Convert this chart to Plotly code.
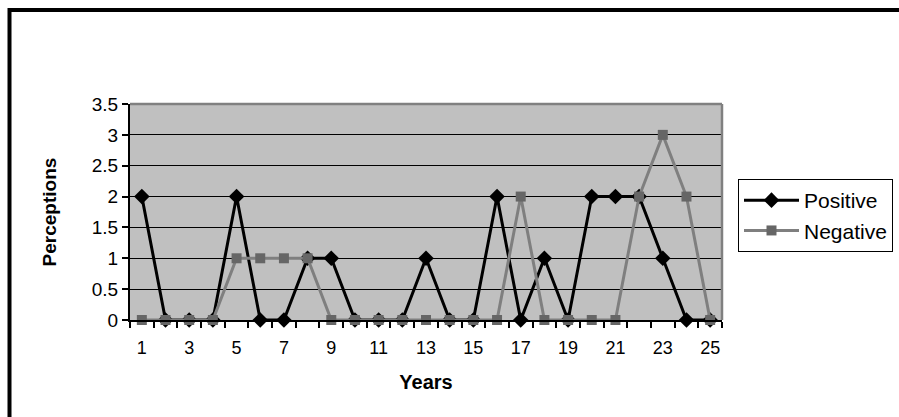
import plotly.graph_objects as go

years = list(range(1, 26))
positive = [2, 0, 0, 0, 2, 0, 0, 1, 1, 0, 0, 0, 1, 0, 0, 2, 0, 1, 0, 2, 2, 2, 1, 0, 0]
negative = [0, 0, 0, 0, 1, 1, 1, 1, 0, 0, 0, 0, 0, 0, 0, 0, 2, 0, 0, 0, 0, 2, 3, 2, 0]
x_tick_labels = [str(v) for v in range(1, 26, 2)]
y_ticks = [0, 0.5, 1, 1.5, 2, 2.5, 3, 3.5]
y_tick_labels = ["0", "0.5", "1", "1.5", "2", "2.5", "3", "3.5"]

W, H = 899, 417
L, R, T, B = 130, 899 - 722, 104, 417 - 320
pw, ph = W - L - R, H - T - B

def px(x):
    return (x - L) / pw

def py(y):
    return (H - B - y) / ph

FONT = "Liberation Sans, Arial, sans-serif"

fig = go.Figure()
fig.add_trace(go.Scatter(
    x=years, y=positive, name="Positive", mode="lines+markers",
    line=dict(color="#000000", width=3),
    marker=dict(symbol="diamond", size=12, color="#000000"),
    cliponaxis=False,
))
fig.add_trace(go.Scatter(
    x=years, y=negative, name="Negative", mode="lines+markers",
    line=dict(color="#7f7f7f", width=3),
    marker=dict(symbol="square", size=10, color="#666666"),
    cliponaxis=False,
))

fig.update_layout(
    width=W, height=H,
    margin=dict(l=L, r=R, t=T, b=B, pad=0, autoexpand=False),
    paper_bgcolor="#ffffff",
    plot_bgcolor="#c0c0c0",
    font=dict(family=FONT, size=18, color="#000000"),
    showlegend=True,
    legend=dict(
        x=px(738), y=py(179), xanchor="left", yanchor="top",
        bgcolor="#ffffff", bordercolor="#000000", borderwidth=1,
        font=dict(size=21), itemwidth=55, tracegroupgap=0,
    ),
    xaxis=dict(
        range=[0.5, 25.5], tickmode="array",
        tickvals=list(range(1, 26, 2)), ticktext=x_tick_labels,
        ticks="", showgrid=False, zeroline=False,
        showline=True, linecolor="#000000", linewidth=2,
        ticklabelstandoff=10,
        tickfont=dict(size=18),
        minor=dict(ticks="outside", tick0=0.5, dtick=1, ticklen=6,
                   tickwidth=1.5, tickcolor="#000000", showgrid=False),
        title=dict(text="<b>Years</b>", font=dict(size=20), standoff=18),
        fixedrange=True,
    ),
    yaxis=dict(
        range=[0, 3.5], tickmode="array", tickvals=y_ticks, ticktext=y_tick_labels,
        ticks="outside", ticklen=6, tickwidth=1.5, tickcolor="#000000",
        showgrid=True, gridcolor="#000000", gridwidth=1.2, zeroline=False,
        showline=True, linecolor="#000000", linewidth=2,
        tickfont=dict(size=19),
        title=dict(text="<b>Perceptions</b>", font=dict(size=19), standoff=30),
        fixedrange=True,
    ),
    shapes=[
        dict(type="line", xref="paper", yref="paper", x0=0, x1=1, y0=1, y1=1,
             line=dict(color="#808080", width=2.5)),
        dict(type="line", xref="paper", yref="paper", x0=1, x1=1, y0=0, y1=1,
             line=dict(color="#808080", width=2.5)),
        dict(type="rect", xref="paper", yref="paper",
             x0=px(9.5), x1=px(960), y0=py(460), y1=py(10),
             line=dict(color="#000000", width=4)),
    ],
)

fig.write_html("out.html")
